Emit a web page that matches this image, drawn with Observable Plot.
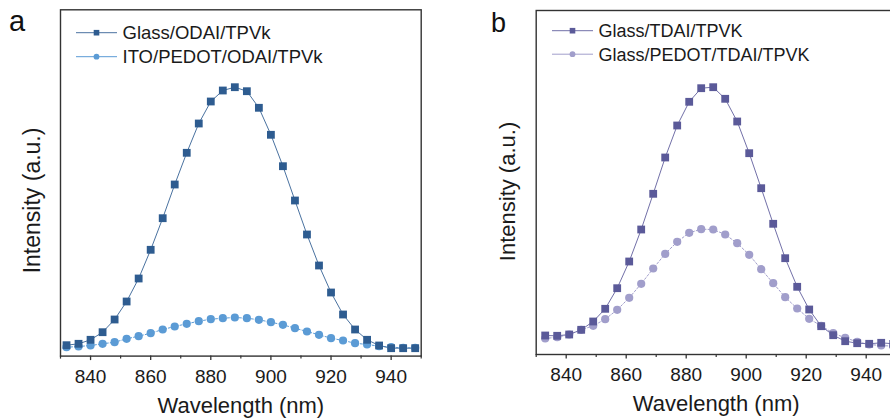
<!DOCTYPE html>
<html><head><meta charset="utf-8">
<script src="https://cdn.jsdelivr.net/npm/d3@7"></script>
<script src="https://cdn.jsdelivr.net/npm/@observablehq/plot@0.6"></script>
<style>
body{margin:0;background:#fff;}
#wrap{position:relative;width:890px;height:420px;overflow:hidden;background:#fff;font-family:"Liberation Sans",Arial,sans-serif;}
.panel{position:absolute;top:0;width:440px;height:420px;}
.panel svg{max-width:none !important;}
</style></head><body><div id="wrap"></div>
<script>
// ---------- data ----------
const wavelengthA = [832,836,840,844,848,852,856,860,864,868,872,876,880,884,888,892,896,900,904,908,912,916,920,924,928,932,936,940,944,948];
const glassODAI = [10.9,12.3,16.3,23.9,36.6,54.6,77.6,106.3,137.9,171.6,203.3,232.6,254.6,265.6,268.9,264.9,248.3,221.3,189.9,155.6,121.6,90.6,63.6,41.6,26.6,16.3,10.6,7.9,7.9,7.9];
const itoPedotODAI = [8.9,9.6,10.6,12.3,13.9,17.3,19.9,22.9,26.6,29.6,32.3,34.9,36.9,37.9,38.6,37.9,36.3,33.9,31.3,27.9,24.6,21.3,17.9,15.6,12.9,11.6,9.9,8.9,8.3,8.3];

const wavelengthB = [833,837,841,845,849,853,857,861,865,869,873,877,881,885,889,893,897,901,905,909,913,917,921,925,929,933,937,941,945,949];
const glassTDAI = [19,18.7,20,24.7,33,45.7,66.3,93,125,160.7,197,229,252.7,266.3,267.3,255.7,233,201.3,166.3,130.7,96.3,67.7,45,28.3,19.3,13.3,11.3,10.7,11.7,10.7];
const glassPedotTDAI = [16,17.3,20,24.7,28.7,35.3,44.7,56.7,70.7,86,100.7,112.7,121.7,125.3,125,120,111.3,99.7,85.3,71.3,57.3,46,35.7,28.7,21.3,16.7,12.7,10,9,8.3];

const majorTicks = [840,860,880,900,920,940];
const minorTicks = [830,850,870,890,910,930,950];
const xDomain = [830, 950];

const xTitle = "Wavelength (nm)";
const yTitle = "Intensity (a.u.)";

const FONT = "Liberation Sans, Arial, Helvetica, sans-serif";

function panel(o) {
  const d1 = o.wl.map((w, i) => ({w, v: o.s1[i]}));
  const d2 = o.wl.map((w, i) => ({w, v: o.s2[i]}));
  const chart = Plot.plot({
    width: o.width, height: 420,
    marginLeft: o.mL, marginRight: o.mR, marginTop: o.mT, marginBottom: o.mB,
    style: {fontFamily: FONT, color: "#1a1a1a", background: "transparent", overflow: "visible"},
    x: {domain: xDomain},
    y: {domain: [0, o.ymax], axis: null},
    marks: [
      Plot.line(d2, {x: "w", y: "v", stroke: o.c2, strokeWidth: 1, strokeDasharray: "2,2"}),
      Plot.line(d1, {x: "w", y: "v", stroke: o.c1l, strokeWidth: 1}),
      Plot.dot(d2, {x: "w", y: "v", r: 4.1, fill: o.c2, symbol: "circle"}),
      Plot.dot(d1, {x: "w", y: "v", r: 4.4, fill: o.c1, symbol: "square"}),
      Plot.frame({stroke: "#333", strokeWidth: 1.4}),
      Plot.axisX({ticks: majorTicks, tickSize: 4.5, tickPadding: 8.5, fontSize: 19, tickFormat: d => String(d), label: null, stroke: "#333", strokeWidth: 1.3}),
      Plot.axisX({ticks: minorTicks, tickSize: 3, tickFormat: () => "", label: null, stroke: "#333", strokeWidth: 1.2}),
      Plot.text([xTitle], {frameAnchor: "bottom", dy: 49.5, fontSize: 22, lineAnchor: "middle", textAnchor: "middle", fill: "#1a1a1a"}),
      Plot.text([yTitle], {frameAnchor: "left", rotate: -90, dx: o.ylDx, dy: o.ylDy, fontSize: o.ylSize, lineAnchor: "middle", textAnchor: "middle", fill: "#1a1a1a"})
    ]
  });
  const div = document.createElement("div");
  div.className = "panel";
  div.style.left = o.left + "px";
  div.appendChild(chart);
  return div;
}

const wrap = document.getElementById("wrap");
wrap.appendChild(panel({
  left: 0, width: 440, mL: 60, mR: 19.3, mT: 9.3, mB: 64.4,
  wl: wavelengthA, s1: glassODAI, s2: itoPedotODAI,
  c1: "#2E5C90", c1l: "#4A72A0", c2: "#5B9BD5", ymax: 346.3,
  ylDx: -28.3, ylDy: 17.5, ylSize: 23
}));
wrap.appendChild(panel({
  left: 460, width: 440, mL: 75.7, mR: 4.3, mT: 10, mB: 66,
  wl: wavelengthB, s1: glassTDAI, s2: glassPedotTDAI,
  c1: "#5B5A99", c1l: "#7270A8", c2: "#A19ECB", ymax: 344,
  ylDx: -28.2, ylDy: 9, ylSize: 22
}));

// ---------- legends and panel letters ----------
const legendA = ["Glass/ODAI/TPVk", "ITO/PEDOT/ODAI/TPVk"];
const legendB = ["Glass/TDAI/TPVK", "Glass/PEDOT/TDAI/TPVK"];
const svg = d3.select(wrap).append("svg")
  .attr("width", 890).attr("height", 420)
  .style("position", "absolute").style("left", 0).style("top", 0)
  .style("font-family", FONT);

function legend(items, colors, lineColors, x0, y0, gap, fs) {
  items.forEach((t, i) => {
    const y = y0 + i * gap;
    svg.append("line").attr("x1", x0).attr("x2", x0 + 41).attr("y1", y).attr("y2", y)
      .attr("stroke", lineColors[i]).attr("stroke-width", 1);
    if (i === 0) {
      svg.append("rect").attr("x", x0 + 20.5 - 2.8).attr("y", y - 2.8).attr("width", 5.6).attr("height", 5.6).attr("fill", colors[i]);
    } else {
      svg.append("circle").attr("cx", x0 + 20.5).attr("cy", y).attr("r", 2.9).attr("fill", colors[i]);
    }
    svg.append("text").attr("x", x0 + 46.5).attr("y", y + 6.5).attr("font-size", fs)
      .attr("fill", "#1a1a1a").text(t);
  });
}
legend(legendA, ["#2E5C90", "#5B9BD5"], ["#4A72A0", "#5B9BD5"], 76, 32.7, 24, 18.5);
legend(legendB, ["#5B5A99", "#A19ECB"], ["#7270A8", "#A19ECB"], 552, 30.7, 23.5, 18);

svg.append("text").attr("x", 9).attr("y", 31).attr("font-size", 29).attr("fill", "#111").text("a");
svg.append("text").attr("x", 491).attr("y", 32).attr("font-size", 27).attr("fill", "#111").text("b");
</script>
</body></html>
